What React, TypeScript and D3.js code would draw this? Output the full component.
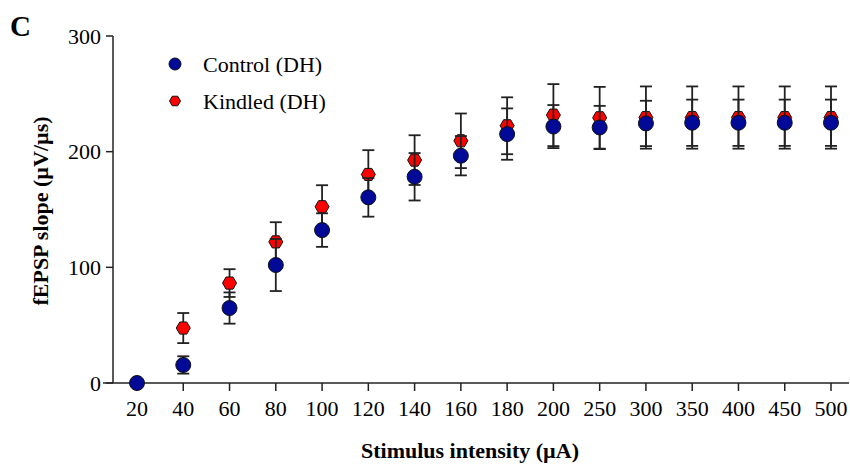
import React from "react";
import * as d3 from "d3";

const categories = ["20", "40", "60", "80", "100", "120", "140", "160", "180", "200", "250", "300", "350", "400", "450", "500"];
const controlMean = [0, 15.6, 64.8, 102, 132.2, 160.5, 178.3, 196.5, 215.2, 221.7, 220.9, 224.4, 225, 225, 225, 225];
const controlSem = [0, 7.5, 13.5, 22.5, 14.5, 16.7, 20.5, 17, 22.2, 18.6, 18.7, 19.6, 20, 20, 20, 20];
const kindledMean = [0, 47.5, 86.4, 122, 152.4, 180.3, 192.7, 209.4, 222.4, 231.6, 229.3, 229.5, 229.5, 229.5, 229.5, 229.5];
const kindledSem = [0, 13, 12, 17, 18.6, 21, 21.5, 23.6, 24.6, 26.8, 26.7, 26.9, 26.9, 26.9, 26.9, 26.9];
const yTicks = [0, 100, 200, 300];
const seriesNames = ["Control (DH)", "Kindled (DH)"];

const W = 850;
const H = 466;
const FONT = "'Liberation Serif', 'Times New Roman', serif";
const BLUE = "#000a96";
const RED = "#ff0000";
const BAR = "#222";

function hexPath(cx: number, cy: number, r: number) {
  const pts: [number, number][] = [];
  for (let i = 0; i < 6; i++) {
    const a = (Math.PI / 3) * i;
    pts.push([cx + r * Math.cos(a), cy + r * Math.sin(a)]);
  }
  return d3.line()(pts) + "Z";
}

export default function App() {
  const x = d3.scalePoint<string>().domain(categories).range([137, 831]);
  const y = d3.scaleLinear().domain([0, 300]).range([383, 36]);
  const cap = 6;

  const errorBars = (means: number[], sems: number[], key: string) =>
    categories.map((c, i) => {
      if (sems[i] <= 0) return null;
      const cx = x(c)!;
      const y1 = y(means[i] + sems[i]);
      const y2 = y(means[i] - sems[i]);
      return (
        <g key={key + i} stroke={BAR} strokeWidth={1.8}>
          <line x1={cx} x2={cx} y1={y1} y2={y2} />
          <line x1={cx - cap} x2={cx + cap} y1={y1} y2={y1} />
          <line x1={cx - cap} x2={cx + cap} y1={y2} y2={y2} />
        </g>
      );
    });

  return (
    <svg width={W} height={H} style={{ position: "absolute", left: 0, top: 0, background: "#fff" }}>
      <rect width={W} height={H} fill="#fff" />
      <text x={10} y={36} fontFamily={FONT} fontWeight="bold" fontSize={29}>C</text>

      {/* Y axis */}
      <line x1={113} x2={113} y1={y(300)} y2={y(0)} stroke="#222" strokeWidth={1.5} />
      {yTicks.map((t) => (
        <g key={"yt" + t}>
          <line x1={106} x2={113} y1={y(t)} y2={y(t)} stroke="#222" strokeWidth={1.5} />
          <text x={101} y={y(t) + 7.5} textAnchor="end" fontFamily={FONT} fontSize={22}>{t}</text>
        </g>
      ))}
      <text
        transform={`translate(48, ${211}) rotate(-90)`}
        textAnchor="middle"
        fontFamily={FONT}
        fontWeight="bold"
        fontSize={22}
      >
        fEPSP slope (µV/µs)
      </text>

      {/* X axis */}
      <line x1={103} x2={849} y1={y(0)} y2={y(0)} stroke="#222" strokeWidth={1.5} />
      {categories.map((c) => (
        <g key={"xt" + c}>
          <line x1={x(c)} x2={x(c)} y1={y(0)} y2={y(0) + 8} stroke="#222" strokeWidth={1.5} />
          <text x={x(c)} y={416} textAnchor="middle" fontFamily={FONT} fontSize={22}>{c}</text>
        </g>
      ))}
      <text x={470} y={458} textAnchor="middle" fontFamily={FONT} fontWeight="bold" fontSize={22}>
        Stimulus intensity (µA)
      </text>

      {/* Kindled */}
      {errorBars(kindledMean, kindledSem, "ke")}
      {categories.map((c, i) => (
        <path key={"km" + i} d={hexPath(x(c)!, y(kindledMean[i]), 7)} fill={RED} stroke="#111" strokeWidth={1} />
      ))}
      {/* Control */}
      {errorBars(controlMean, controlSem, "ce")}
      {categories.map((c, i) => (
        <circle key={"cm" + i} cx={x(c)} cy={y(controlMean[i])} r={7.5} fill={BLUE} stroke="#111" strokeWidth={1} />
      ))}

      {/* Legend */}
      <circle cx={175} cy={64} r={6} fill={BLUE} stroke="#111" strokeWidth={1} />
      <text x={203} y={72} fontFamily={FONT} fontSize={22}>{seriesNames[0]}</text>
      <path d={hexPath(175, 101, 5.5)} fill={RED} stroke="#111" strokeWidth={1} />
      <text x={203} y={109} fontFamily={FONT} fontSize={22}>{seriesNames[1]}</text>
    </svg>
  );
}
